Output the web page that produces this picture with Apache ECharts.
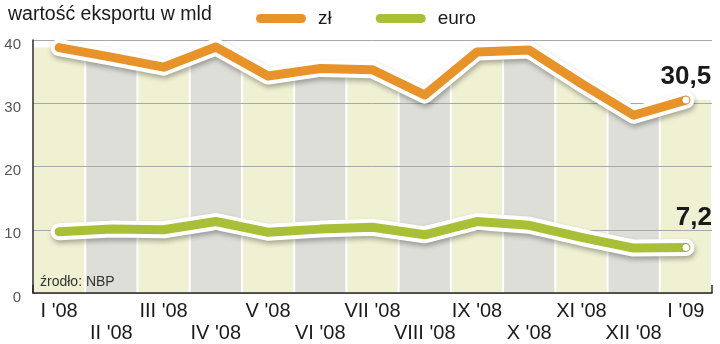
<!DOCTYPE html>
<html>
<head>
<meta charset="utf-8">
<script src="https://cdn.jsdelivr.net/npm/echarts@6/dist/echarts.min.js"></script>
<style>
  html, body { margin: 0; padding: 0; background: #fff; }
  #chart { width: 720px; height: 344px; }
</style>
</head>
<body>
<div id="chart"></div>
<script>
// Monthly export value, billions
var months = ["I '08", "II '08", "III '08", "IV '08", "V '08", "VI '08", "VII '08",
              "VIII '08", "IX '08", "X '08", "XI '08", "XII '08", "I '09"];
var zl   = [38.8, 37.3, 35.7, 38.9, 34.3, 35.5, 35.3, 31.3, 38.1, 38.4, 33.1, 28.1, 30.5];
var euro = [9.7, 10.1, 10.0, 11.3, 9.6, 10.1, 10.4, 9.2, 11.3, 10.7, 8.8, 7.1, 7.2];
var yTicks = { min: 0, max: 40, step: 10 };

var ORANGE = '#E8922A';
var GREEN = '#A9BF38';
var STRIPE_A = '#F0F0D3';
var STRIPE_B = '#DEDED8';
var FONT = '"Liberation Sans", Arial, sans-serif';

function fmt(v) { return v.toFixed(1).replace('.', ','); }

// Column stripes filled up to the zł line
function renderStripe(params, api) {
  var i = params.dataIndex;
  var n = zl.length;
  var c = api.coord([i, api.value(1)]);
  var w = api.size([1, 0])[0];
  var y0 = api.coord([i, 0])[1];
  var half = w / 2 - 1;
  var prev = i > 0 ? api.coord([i - 1, zl[i - 1]]) : null;
  var next = i < n - 1 ? api.coord([i + 1, zl[i + 1]]) : null;
  function yAt(p, x) {
    return p ? c[1] + (p[1] - c[1]) * (x - c[0]) / (p[0] - c[0]) : c[1];
  }
  var xl = c[0] - half, xr = c[0] + half;
  return {
    type: 'polygon',
    shape: { points: [[xl, yAt(prev, xl)], c, [xr, yAt(next, xr)], [xr, y0], [xl, y0]] },
    style: { fill: i % 2 ? STRIPE_B : STRIPE_A }
  };
}

function lineData(arr, labelOffset) {
  var last = arr.length - 1;
  return arr.map(function (v, i) {
    if (i !== last) return v;
    return {
      value: v,
      symbol: 'circle',
      symbolSize: 7,
      itemStyle: { color: '#ffffff', shadowColor: 'rgba(0,0,0,0.35)', shadowBlur: 2 },
      label: {
        show: true,
        position: 'top',
        offset: labelOffset,
        formatter: function (p) { return fmt(p.value); },
        fontFamily: FONT,
        fontSize: 26,
        fontWeight: 'bold',
        color: '#1a1a1a'
      }
    };
  });
}

function outline(name, arr) {
  return {
    name: name,
    type: 'line',
    data: arr,
    z: 3,
    symbol: 'none',
    silent: true,
    lineStyle: {
      width: 17, color: '#ffffff', cap: 'round', join: 'round',
      shadowColor: 'rgba(0,0,0,0.3)', shadowBlur: 5, shadowOffsetX: 1, shadowOffsetY: 3
    }
  };
}

function colored(name, arr, color, labelOffset) {
  return {
    name: name,
    type: 'line',
    data: lineData(arr, labelOffset),
    z: 4,
    symbol: 'none',
    showAllSymbol: true,
    silent: true,
    itemStyle: { color: color },
    lineStyle: { width: 9, color: color, cap: 'round', join: 'round' }
  };
}

var chart = echarts.init(document.getElementById('chart'), null, { renderer: 'canvas' });
chart.setOption({
  animation: false,
  title: {
    text: 'wartość eksportu w mld',
    left: 3, top: 0,
    textStyle: { fontFamily: FONT, fontSize: 19.5, fontWeight: 'normal', color: '#1a1a1a' }
  },
  legend: {
    data: [
      { name: 'zł', itemStyle: { color: ORANGE } },
      { name: 'euro', itemStyle: { color: GREEN } }
    ],
    left: 251, top: 4,
    itemWidth: 50, itemHeight: 9, itemGap: 44,
    icon: 'path://M4.5,0 H45.5 A4.5,4.5 0 0 1 45.5,9 H4.5 A4.5,4.5 0 0 1 4.5,0 Z',
    selectedMode: false,
    textStyle: { fontFamily: FONT, fontSize: 19, color: '#1a1a1a', padding: [0, 0, 0, 7] }
  },
  grid: { left: 33, right: 8, top: 40, bottom: 51 },
  xAxis: {
    type: 'category',
    data: months,
    boundaryGap: true,
    z: 5,
    axisLine: { lineStyle: { color: '#2a2a2a', width: 1.5 } },
    axisTick: {
      show: true, inside: true, length: 8,
      interval: function (idx) { return idx === 12; },
      lineStyle: { color: '#2a2a2a', width: 1.5 }
    },
    axisLabel: {
      interval: 0,
      margin: 7,
      fontFamily: FONT,
      fontSize: 20,
      lineHeight: 22,
      color: '#1a1a1a',
      formatter: function (v, idx) { return idx % 2 ? '\n' + v : v; }
    },
    splitLine: { show: false }
  },
  yAxis: {
    type: 'value',
    min: yTicks.min, max: yTicks.max, interval: yTicks.step,
    z: 1,
    axisLine: { show: true, lineStyle: { color: '#2a2a2a', width: 1.5 } },
    axisTick: { show: false },
    axisLabel: {
      margin: 12,
      fontFamily: FONT,
      fontSize: 15,
      color: '#555555',
      verticalAlign: 'top',
      lineHeight: 9
    },
    splitLine: { lineStyle: { color: '#a8a8a8', width: 1 } }
  },
  graphic: [{
    type: 'text',
    left: 40, top: 275,
    z: 10,
    style: { text: 'źrodło: NBP', fontFamily: FONT, fontSize: 14, fill: '#333333' }
  }],
  series: [
    {
      name: 'stripes',
      type: 'custom',
      z: 0,
      silent: true,
      renderItem: renderStripe,
      data: zl.map(function (v, i) { return [i, v]; })
    },
    outline('zł-outline', zl),
    outline('euro-outline', euro),
    colored('zł', zl, ORANGE, [0, -2]),
    colored('euro', euro, GREEN, [8, -8])
  ]
});
</script>
</body>
</html>
